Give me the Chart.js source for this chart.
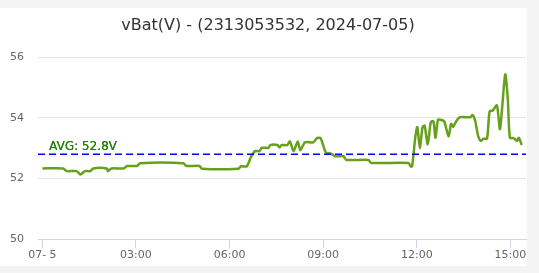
<!DOCTYPE html>
<html><head><meta charset="utf-8">
<script src="https://cdn.jsdelivr.net/npm/chart.js@4/dist/chart.umd.min.js"></script>
<style>
html,body{margin:0;padding:0;background:#f3f3f3;width:539px;height:273px;overflow:hidden}
#card{position:absolute;left:0;top:8px;width:527px;height:258px;background:#fff}
#wrap{position:absolute;left:0;top:0;width:539px;height:273px}
</style></head><body>
<div id="card"></div>
<div id="wrap"><canvas id="c" width="539" height="273"></canvas></div>
<script>
const titleText = "vBat(V) - (2313053532, 2024-07-05)";
const times = ["00:00","00:40","00:47","01:06","01:13","01:22","01:32","01:38","02:04","02:06","02:13","02:36","02:43","03:02","03:08","04:31","04:37","05:02","05:07","06:17","06:22","06:33","06:41","06:49","06:57","07:02","07:15","07:18","07:32","07:36","07:40","07:51","07:56","08:03","08:11","08:16","08:25","08:41","08:48","08:55","09:05","09:15","09:23","09:39","09:45","10:27","10:32","11:44","11:48","11:51","11:57","12:01","12:06","12:11","12:15","12:21","12:27","12:32","12:36","12:41","12:49","12:53","13:01","13:06","13:10","13:17","13:23","13:43","13:47","13:52","13:58","14:03","14:08","14:15","14:20","14:26","14:34","14:40","14:50","14:55","14:59","15:06","15:13","15:16","15:22"];
const vbat = [52.33,52.33,52.24,52.24,52.13,52.24,52.24,52.33,52.33,52.24,52.33,52.33,52.41,52.41,52.5,52.5,52.41,52.41,52.32,52.32,52.4,52.4,52.7,52.9,52.9,53.01,53.01,53.1,53.1,53.02,53.1,53.1,53.22,52.9,53.22,52.93,53.19,53.19,53.33,53.33,52.86,52.82,52.73,52.73,52.61,52.61,52.51,52.51,52.4,52.4,53.34,53.69,52.99,53.69,53.74,53.13,53.86,53.88,53.34,53.94,53.92,53.88,53.39,53.8,53.71,53.92,54.02,54.02,54.09,53.92,53.4,53.24,53.31,53.31,54.21,54.24,54.41,53.63,55.43,54.62,53.34,53.33,53.24,53.34,53.1];
const avgValue = 52.8;
const avgLabel = "AVG: 52.8V";
const xTickHours = [0,3,6,9,12,15];
const xTickLabels = ["07- 5","03:00","06:00","09:00","12:00","15:00"];
const yTicks = [50,52,54,56];

function toHours(s){const p=s.split(":");return +p[0]+(+p[1])/60;}
const points = times.map((t,i)=>({x:toHours(t),y:vbat[i]}));

const avgPlugin = {
  id:'avgLine',
  afterDatasetsDraw(chart){
    const {ctx,chartArea,scales} = chart;
    const y = scales.y.getPixelForValue(avgValue);
    ctx.save();
    ctx.strokeStyle = '#0000ff';
    ctx.lineWidth = 1.5;
    ctx.setLineDash([7,4]);
    ctx.beginPath();
    ctx.moveTo(chartArea.left,y);
    ctx.lineTo(chartArea.right,y);
    ctx.stroke();
    ctx.setLineDash([]);
    ctx.fillStyle = '#23800a';
    ctx.font = '12px "DejaVu Sans"';
    ctx.textBaseline = 'alphabetic';
    ctx.fillText(avgLabel, chartArea.left+11, y-4);
    ctx.fillText(avgLabel, chartArea.left+11.3, y-4);
    ctx.restore();
  }
};

new Chart(document.getElementById('c'),{
  type:'line',
  data:{datasets:[{data:points,borderColor:'#67a01b',borderWidth:2.5,pointRadius:0,tension:0.25,fill:false}]},
  options:{
    responsive:false,animation:false,
    layout:{padding:{left:10,right:13,top:0,bottom:0}},
    plugins:{
      legend:{display:false},tooltip:{enabled:false},
      title:{display:true,text:titleText,color:'#333',font:{family:'"DejaVu Sans"',size:16,weight:'normal'},padding:{top:16,bottom:22}}
    },
    scales:{
      x:{type:'linear',min:-0.14,max:15.5,
        afterBuildTicks(s){s.ticks=xTickHours.map(v=>({value:v}));},
        afterFit(s){s.height=273-231-8;},
        ticks:{color:'#666',font:{family:'"DejaVu Sans"',size:11},padding:1,maxRotation:0,autoSkip:false,
          callback(v){const i=xTickHours.indexOf(v);return i>=0?xTickLabels[i]:'';}},
        grid:{drawOnChartArea:false,drawTicks:true,tickLength:9,color:'#ccd6eb'},
        border:{color:'#ccd6eb',width:1}
      },
      y:{min:50,max:56,
        afterBuildTicks(s){s.ticks=yTicks.map(v=>({value:v}));},
        afterFit(s){s.width=28;},
        ticks:{color:'#666',font:{family:'"DejaVu Sans"',size:11},padding:14},
        grid:{color:'#e6e6e6',drawTicks:false},
        border:{display:false}
      }
    }
  },
  plugins:[avgPlugin]
});
</script></body></html>
